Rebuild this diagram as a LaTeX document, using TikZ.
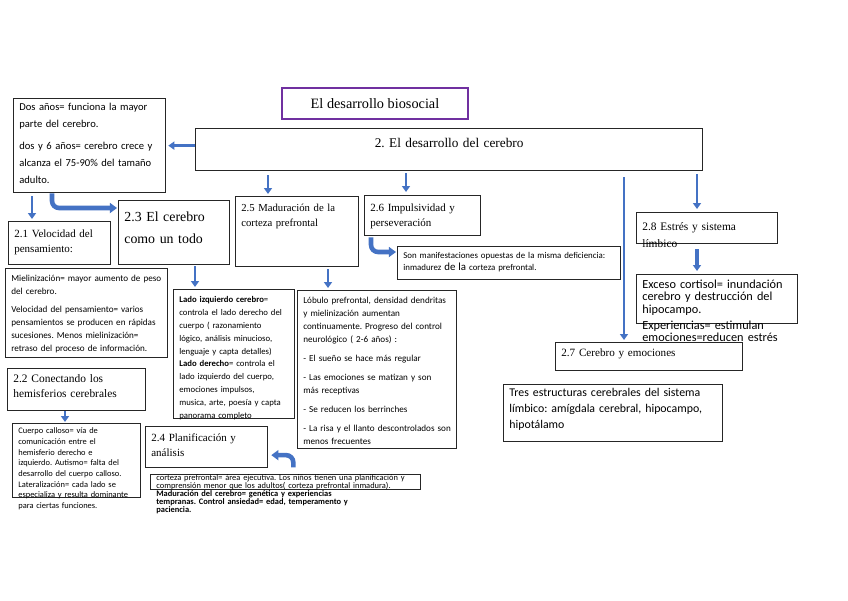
\documentclass[tikz,border=0pt]{standalone}
\usepackage{fontspec}
\setmainfont{Liberation Serif}
\newfontfamily\calibri{Carlito}
\usepackage{tikz}
\usetikzlibrary{arrows.meta, calc}
\definecolor{azulflecha}{RGB}{68,114,196}
\definecolor{moradotitulo}{RGB}{112,48,160}
\newcommand{\cuerpo}[2]{\calibri\fontsize{#1}{#2}\selectfont}
\newcommand{\serif}[2]{\fontsize{#1}{#2}\selectfont}
\frenchspacing
\tikzset{
  caja/.style={draw=black!85, line width=0.9pt, anchor=north west, align=left, inner xsep=4pt, inner ysep=3pt},
  flecha/.style={-{Triangle[width=5.6pt,length=4.2pt]}, line width=2pt, draw=azulflecha},
  gruesa/.style={-{Triangle[width=7pt,length=5pt]}, line width=3.2pt, draw=azulflecha, rounded corners=5pt}
}
\begin{document}
\begin{tikzpicture}[x=0.7pt, y=-0.7pt]
  \path[use as bounding box, fill=white] (0,0) rectangle (848,600);

  \node[draw=moradotitulo, line width=2pt, minimum width=130.2pt, minimum height=21.7pt, font=\serif{10}{12}] (biosocial) at (375,103.5) {El desarrollo biosocial};
  \node[caja, align=center, text width=346.9pt, text height=10.3pt, text depth=13.1pt, font=\serif{9.3}{10.5}] (cerebro) at (195,128) {2. El desarrollo del cerebro};

  \node[caja, text width=98.4pt, text height=5.4pt, text depth=54.4pt, font={\cuerpo{7.4}{11.9}}] (dosanos) at (13,98) {Dos años= funciona la mayor\\ parte del cerebro.\\[3.5pt] dos y 6 años= cerebro crece y\\ alcanza el 75-90\% del tamaño\\ adulto.};

  \node[caja, text width=63.4pt, text height=8.2pt, text depth=15.9pt, font=\serif{7.7}{10.5}] (velocidad) at (8,221) {2.1 Velocidad del\\ pensamiento:};
  \node[caja, text width=69.7pt, text height=11.7pt, text depth=27.1pt, font=\serif{9.7}{15.4}] (todo) at (118,200) {2.3 El cerebro\\ como un todo};
  \node[caja, text width=78.1pt, text height=7.5pt, text depth=35.5pt, font=\serif{7.5}{10.5}] (madurez) at (235,196) {2.5 Maduración de la\\ corteza prefrontal};
  \node[caja, text width=73.2pt, text height=8.2pt, text depth=13.8pt, font=\serif{7.7}{10.5}] (impulso) at (364,195) {2.6 Impulsividad y\\ perseveración};
  \node[caja, text width=148pt, text height=5.4pt, text depth=11.7pt, font={\cuerpo{6.2}{8.4}}] (opuestas) at (397,246) {Son manifestaciones opuestas de la misma deficiencia:\\ inmadurez {\fontsize{7.6}{8.4}\selectfont de la} corteza prefrontal.};
  \node[caja, text width=90.7pt, text height=9.6pt, text depth=6.1pt, font=\serif{8}{11.9}] (estres) at (636,212) {2.8 Estrés y sistema\\ límbico};
  \node[caja, text width=104.7pt, text height=6.8pt, text depth=21.5pt, font={\cuerpo{8.6}{8.6}}] (cortisol) at (636,274) {Exceso cortisol= inundación\\ cerebro y destrucción del\\ hipocampo.\\[2.5pt] Experiencias= estimulan\\ emociones=reducen estrés};
  \node[caja, text width=122.9pt, text height=6.8pt, text depth=6.8pt, font=\serif{7.8}{10.5}] (emociones) at (555,342) {2.7 Cerebro y emociones};
  \node[caja, text width=145.3pt, text height=5.4pt, text depth=28.5pt, font={\cuerpo{8.3}{11.2}}] (limbico) at (503,384) {Tres estructuras cerebrales del sistema\\ límbico: amígdala cerebral, hipocampo,\\ hipotálamo};

  \node[caja, text width=105.4pt, text height=6.1pt, text depth=50.2pt, font={\cuerpo{6.4}{9.1}}] (mielina) at (5,268) {Mielinización= mayor aumento de peso\\ del cerebro.\\[3.5pt] Velocidad del pensamiento= varios\\ pensamientos se producen en rápidas\\ sucesiones. Menos mielinización=\\ retraso del proceso de información.};
  \node[caja, text width=76.7pt, text height=6.1pt, text depth=78.2pt, font={\cuerpo{6.1}{9}}] (hemisferios) at (173,289) {\textbf{Lado izquierdo cerebro}=\\ controla el lado derecho del\\ cuerpo ( razonamiento\\ lógico, análisis minucioso,\\ lenguaje y capta detalles)\\ \textbf{Lado derecho}= controla el\\ lado izquierdo del cuerpo,\\ emociones impulsos,\\ musica, arte, poesía y capta\\ panorama completo};
  \node[caja, text width=103.3pt, text height=6.1pt, text depth=98.5pt, font={\cuerpo{6.4}{9.1}}] (lobulo) at (297,290) {Lóbulo prefrontal, densidad dendritas\\ y mielinización aumentan\\ continuamente. Progreso del control\\ neurológico ( 2-6 años) :\\[4.2pt] - El sueño se hace más regular\\[4.2pt] - Las emociones se matizan y son\\ más receptivas\\[4.2pt] - Se reducen los berrinches\\[4.2pt] - La risa y el llanto descontrolados son\\ menos frecuentes};
  \node[caja, text width=88.6pt, text height=6.8pt, text depth=16.6pt, font=\serif{8}{10.5}] (conectando) at (7,368) {2.2 Conectando los\\ hemisferios cerebrales};
  \node[caja, text width=81.6pt, text height=4pt, text depth=41.8pt, font={\cuerpo{5.9}{7.5}}] (calloso) at (12,423) {Cuerpo calloso= vía de\\ comunicación entre el\\ hemisferio derecho e\\ izquierdo. Autismo= falta del\\ desarrollo del cuerpo calloso.\\ Lateralización= cada lado se\\ especializa y resulta dominante\\ para ciertas funciones.};
  \node[caja, text width=77.4pt, text height=7.5pt, text depth=15.2pt, font=\serif{7.7}{10.5}] (planifica) at (145,426) {2.4 Planificación y\\ análisis};
  \node[caja, inner ysep=1pt, text width=181pt, text height=3.2pt, text depth=5.3pt, font={\cuerpo{5.9}{5.6}}] (ejecutiva) at (150,474) {corteza prefrontal= área ejecutiva. Los niños tienen una planificación y\\ comprensión menor que los adultos( corteza prefrontal inmadura).\\ \textbf{Maduración del cerebro= genética y experiencias}\\ \textbf{tempranas. Control ansiedad= edad, temperamento y}\\ \textbf{paciencia.}};

  \draw[flecha] (cerebro.west |- dosanos.east) -- ($(dosanos.east)+(2,0)$);
  \draw[flecha] ($(dosanos.south west)+(19,3)$) -- ($(velocidad.north west)+(24,-2)$);
  \draw[gruesa] ($(dosanos.south west)+(39,0)$) |- ($(todo.north west)+(-1,8)$);
  \draw[flecha] ($(cerebro.south west)+(73,4)$) -- ($(madurez.north west)+(33,-2)$);
  \draw[flecha] ($(cerebro.south west)+(211,2)$) -- ($(impulso.north west)+(42,-3)$);
  \draw[gruesa] ($(impulso.south west)+(7,1)$) |- ($(opuestas.north west)+(-1,6)$);
  \draw[flecha] ($(cerebro.south west)+(429,6)$) -- ($(emociones.north west)+(69,-2)$);
  \draw[flecha] ($(cerebro.south west)+(502,3)$) -- ($(estres.north west)+(61,-3)$);
  \draw[flecha, line width=3pt] ($(estres.south west)+(61,5)$) -- ($(cortisol.north west)+(61,-3)$);
  \draw[flecha] ($(todo.south west)+(77,1)$) -- ($(hemisferios.north west)+(22,-2)$);
  \draw[flecha] ($(madurez.south west)+(93,2)$) -- ($(lobulo.north west)+(31,-2)$);
  \draw[flecha, line width=1.4pt] ($(conectando.south west)+(58,0)$) -- ($(calloso.north west)+(53,-1)$);
  \draw[gruesa] ($(planifica.south east)+(25,-1)$) |- ($(planifica.east)+(3,8)$);
\end{tikzpicture}
\end{document}
